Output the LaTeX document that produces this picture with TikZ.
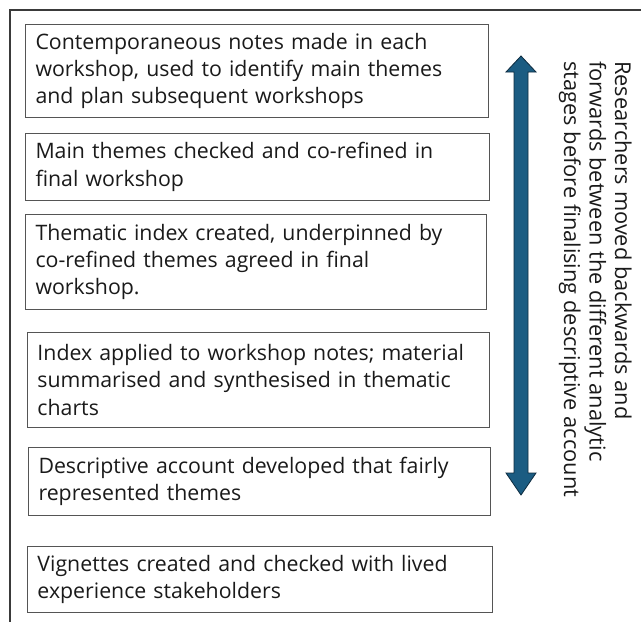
\documentclass[tikz,border=0pt]{standalone}
\usepackage{fontspec}
\setmainfont{Open Sans}
\definecolor{framegray}{HTML}{3A3A3A}
\definecolor{boxgray}{HTML}{555555}
\definecolor{inktext}{HTML}{1A1A1A}
\definecolor{arrowblue}{HTML}{1B5C82}
\definecolor{arrowedge}{HTML}{0E2C40}
\begin{document}
\begin{tikzpicture}[x=1pt,y=-1pt,
  stagebox/.style={draw=boxgray, line width=1pt, anchor=north west, inner xsep=10pt,
    inner ysep=0pt, align=left, text=inktext, font=\fontsize{21.3}{27.3}\selectfont},
  sidenote/.style={rotate=-90, anchor=north west, inner sep=0pt, align=left,
    text=inktext, font=\fontsize{21.8}{25.5}\selectfont}]
  \useasboundingbox (0,0) rectangle (641,622);
  \fill[white] (0,0) rectangle (641,622);
  % outer frame, open at the right and bottom
  \draw[framegray, line width=1.5pt] (641,10) -- (10,10) -- (10,622);

  % analysis stages
  \node[stagebox, minimum width=463pt, minimum height=93pt, text width=443pt] (s1) at (25,24)
    {Contemporaneous notes made in each\\workshop, used to identify main themes\\and plan subsequent workshops};
  \node[stagebox, minimum width=464pt, minimum height=67pt, text width=444pt] (s2) at (25,133)
    {Main themes checked and co-refined in\\final workshop};
  \node[stagebox, minimum width=461pt, minimum height=95pt, text width=441pt] (s3) at (25,214)
    {Thematic index created, underpinned by\\co-refined themes agreed in final\\workshop.};
  \node[stagebox, minimum width=462pt, minimum height=95pt, text width=442pt] (s4) at (27,332)
    {Index applied to workshop notes; material\\summarised and synthesised in thematic\\charts};
  \node[stagebox, minimum width=462pt, minimum height=68pt, text width=442pt] (s5) at (28,447)
    {Descriptive account developed that fairly\\represented themes};
  \node[stagebox, minimum width=465pt, minimum height=66pt, text width=445pt] (s6) at (27,546)
    {Vignettes created and checked with lived\\experience stakeholders};

  % two-way block arrow
  \filldraw[fill=arrowblue, draw=arrowedge, line width=0.8pt, line join=miter]
    (521,56) -- (536,72) -- (528,72) -- (528,473) -- (536,473) -- (521,495)
    -- (506,473) -- (514,473) -- (514,72) -- (506,72) -- cycle;

  % side note
  \node[sidenote] (note) at (632,61)
    {Researchers moved backwards and\\forwards between the different analytic\\stages before finalising descriptive account};
\end{tikzpicture}
\end{document}
